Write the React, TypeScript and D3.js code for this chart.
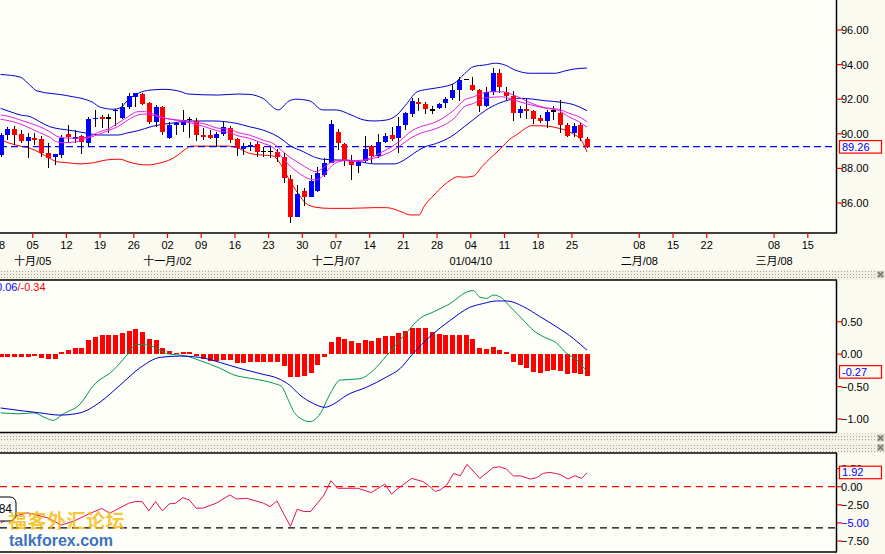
import React, { useEffect, useRef } from 'react'
import * as d3 from 'd3'

// ---- candles (bar index 0 = 28 Sep 2009) ----
const candleOpen = [88.77, 89.93, 90.28, 89.99, 89.6, 89.76, 89.7, 88.87, 88.64, 88.77, 89.99, 89.77, 89.87, 89.49, 90.88, 90.99, 90.9, 91.33, 90.9, 91.53, 92.14, 92.28, 91.76, 90.7, 91.57, 89.74, 90.51, 90.51, 90.84, 90.76, 89.93, 89.93, 89.74, 89.99, 90.32, 89.68, 89.1, 89.22, 89.41, 88.97, 88.97, 88.97, 88.64, 87.39, 85.21, 86.69, 86.37, 86.69, 87.62, 88.33, 90.12, 89.41, 88.4, 88.16, 88.43, 89.29, 88.69, 89.54, 89.93, 89.74, 90.49, 91.16, 91.86, 91.72, 91.38, 91.48, 91.76, 92.05, 92.51, 93.15, 92.82, 92.53, 91.61, 92.42, 93.5, 92.4, 92.16, 91.18, 91.45, 91.32, 90.94, 90.76, 91.32, 91.23, 90.51, 90.06, 90.48, 89.7]
const candleHigh = [90.03, 90.41, 90.45, 90.22, 90.06, 90.03, 89.87, 89.45, 88.83, 89.93, 90.51, 90.22, 89.93, 90.99, 91.38, 91.09, 91.13, 91.42, 91.76, 92.34, 92.37, 92.34, 91.86, 91.66, 91.61, 90.7, 90.7, 91.38, 90.95, 90.9, 90.32, 90.22, 90.12, 90.7, 90.45, 89.74, 89.45, 89.51, 89.54, 89.25, 89.22, 89.1, 88.87, 87.62, 87.04, 86.85, 87.62, 88.1, 88.58, 90.8, 90.26, 89.49, 88.77, 88.49, 89.87, 89.35, 89.99, 90.06, 90.41, 90.97, 91.28, 92.05, 92.05, 91.86, 91.61, 91.8, 92.14, 92.88, 93.27, 93.16, 93.27, 92.57, 92.72, 93.79, 93.73, 92.7, 92.49, 91.61, 92.01, 91.38, 91.09, 91.35, 91.61, 91.95, 90.61, 90.61, 90.63, 89.79]
const candleLow = [88.64, 89.64, 89.35, 89.45, 88.62, 89.35, 88.64, 88.01, 88.18, 88.62, 89.54, 89.45, 88.83, 89.25, 90.41, 90.32, 90.06, 90.45, 90.84, 91.42, 91.57, 91.66, 90.57, 90.41, 89.93, 89.68, 89.93, 90.12, 89.76, 89.6, 89.64, 89.68, 89.22, 89.87, 89.45, 88.72, 88.77, 89.0, 88.64, 88.64, 88.58, 88.39, 87.17, 84.83, 85.19, 85.85, 86.33, 86.65, 87.49, 88.3, 89.06, 88.14, 87.33, 87.75, 88.3, 88.3, 88.6, 89.49, 89.61, 88.91, 90.22, 90.99, 91.34, 91.14, 91.14, 91.44, 91.48, 91.95, 91.9, 93.14, 92.49, 91.28, 91.57, 92.24, 92.34, 91.95, 90.76, 90.94, 90.86, 90.57, 90.61, 90.32, 90.8, 90.05, 89.8, 89.83, 89.58, 89.18]
const candleClose = [89.93, 90.26, 89.93, 89.6, 89.8, 89.64, 88.91, 88.62, 88.83, 89.78, 89.8, 89.8, 89.51, 90.84, 90.92, 90.84, 90.9, 91.38, 91.57, 92.19, 92.34, 91.72, 90.7, 91.57, 90.12, 90.51, 90.61, 90.8, 90.84, 89.93, 89.8, 89.74, 89.99, 90.38, 89.64, 89.16, 89.29, 89.35, 88.97, 88.97, 88.97, 88.64, 87.43, 85.21, 86.52, 86.37, 87.29, 87.72, 88.3, 90.57, 89.45, 88.45, 88.17, 88.37, 89.14, 88.69, 89.53, 89.87, 89.7, 90.43, 91.19, 91.9, 91.72, 91.42, 91.38, 91.72, 92.0, 92.55, 93.09, 93.15, 92.53, 91.61, 92.43, 93.5, 92.7, 92.19, 91.18, 91.45, 91.34, 90.84, 90.76, 91.26, 91.32, 90.51, 89.9, 90.47, 89.74, 89.26]
const lastPrice = 89.26

// ---- overlay lines [bar, price] ----
const upperBand: [number, number][] = [[0, 93.43], [2.9, 93.28], [4.4, 92.79], [5.4, 92.48], [9.8, 92.21], [13.7, 91.81], [14.7, 91.55], [16.7, 91.42], [17.7, 91.49], [18.9, 91.95], [20.4, 92.34], [22.3, 92.53], [24.4, 92.57], [26.8, 92.43], [27.8, 92.3], [32.3, 92.24], [35.2, 92.3], [36.9, 92.28], [38.9, 92.05], [41.2, 91.38], [42.8, 91.9], [43.8, 92.0], [45.8, 91.91], [47.8, 91.38], [49.8, 91.38], [52, 91.09], [53.9, 90.8], [55.4, 90.74], [57.3, 90.8], [58.8, 91.09], [60.3, 91.76], [61.8, 92.43], [63.3, 92.57], [65.3, 92.69], [67.3, 92.92], [68.8, 93.46], [70.2, 93.89], [71.9, 93.98], [73.4, 94.08], [74.8, 93.98], [76.3, 93.69], [78.5, 93.5], [82.3, 93.5], [83.7, 93.63], [85.2, 93.75], [87, 93.8]]
const midBand: [number, number][] = [[0, 91.47], [1.4, 91.28], [2.9, 91.09], [4.4, 90.99], [5.8, 90.7], [7.3, 90.41], [8.8, 90.28], [10.7, 90.18], [12.8, 90.03], [14.7, 89.93], [17.4, 89.93], [18.9, 90.06], [20.4, 90.18], [22.3, 90.41], [24.4, 90.57], [25.9, 90.64], [27.4, 90.74], [31.8, 90.74], [33.3, 90.7], [34.9, 90.61], [36.9, 90.41], [38.9, 90.22], [40.4, 89.99], [41.9, 89.64], [42.8, 89.35], [44.9, 88.97], [46.4, 88.68], [47.8, 88.53], [49.8, 88.49], [52.7, 88.43], [55.4, 88.26], [58.4, 88.26], [59.9, 88.49], [61.3, 88.87], [62.8, 89.22], [64.7, 89.45], [66.8, 89.83], [68.8, 90.41], [70.2, 90.84], [71.9, 91.34], [73.9, 91.76], [75.4, 91.95], [76.9, 92.05], [78.8, 92.01], [80.8, 91.91], [83.3, 91.82], [85.2, 91.66], [87, 91.34]]
const maFast: [number, number][] = [[0, 91.09], [1.4, 90.99], [2.9, 90.8], [4.4, 90.61], [5.8, 90.41], [7.3, 90.12], [8.3, 89.87], [9.3, 89.77], [11.3, 89.74], [12.8, 89.8], [14.7, 90.12], [16.2, 90.32], [17.4, 90.61], [18.9, 90.99], [20.4, 91.28], [21.4, 91.28], [22.3, 91.19], [24.4, 90.9], [26.3, 90.8], [28.3, 90.7], [30.3, 90.57], [32.3, 90.32], [34.2, 90.26], [34.9, 90.12], [36.9, 89.93], [38.9, 89.64], [40.4, 89.45], [41.9, 88.97], [42.8, 88.68], [44.3, 88.3], [45.8, 87.95], [46.8, 87.81], [47.8, 88.01], [48.8, 88.3], [49.8, 88.43], [51.2, 88.49], [52.7, 88.45], [54.4, 88.54], [56.4, 88.91], [57.9, 89.22], [59.4, 89.64], [60.8, 90.12], [62.3, 90.41], [64.3, 90.64], [65.8, 90.95], [67.3, 91.38], [68.8, 91.95], [70.2, 92.14], [71.4, 92.34], [72.9, 92.43], [74.4, 92.43], [75.4, 92.34], [76.9, 92.11], [78.8, 91.76], [80.8, 91.51], [82.8, 91.42], [84.3, 91.19], [85.8, 90.99], [87, 90.7]]
const maSlow: [number, number][] = [[0, 90.84], [1.4, 90.74], [2.9, 90.57], [4.4, 90.32], [5.8, 90.06], [7.3, 89.8], [8.3, 89.54], [9.3, 89.49], [11.3, 89.54], [12.3, 89.68], [14.3, 89.93], [16.2, 90.22], [17.4, 90.41], [18.9, 90.8], [20.4, 91.09], [21.4, 91.14], [22.3, 91.09], [24.4, 90.9], [26.3, 90.76], [28.3, 90.61], [30.3, 90.41], [32.3, 90.16], [34.2, 90.06], [34.9, 89.93], [36.9, 89.74], [38.9, 89.45], [40.4, 89.22], [41.9, 88.58], [42.8, 88.2], [44.3, 87.72], [45.8, 87.39], [46.8, 87.33], [47.8, 87.56], [48.8, 88.01], [49.8, 88.33], [51.2, 88.45], [52.7, 88.39], [54.4, 88.49], [56.4, 88.72], [57.9, 88.97], [59.4, 89.35], [60.8, 89.74], [62.3, 90.03], [64.3, 90.26], [65.8, 90.51], [67.3, 90.9], [68.8, 91.57], [70.2, 91.76], [71.4, 92.05], [72.9, 92.11], [74.4, 92.14], [75.4, 92.05], [76.9, 91.86], [78.8, 91.66], [80.8, 91.48], [82.8, 91.34], [84.3, 90.99], [85.8, 90.7], [87, 90.38]]
const lowerBand: [number, number][] = [[0, 89.64], [1.4, 89.45], [2.9, 89.29], [4.4, 89.16], [5.8, 88.91], [7.3, 88.58], [8.3, 88.39], [9.8, 88.33], [11.8, 88.26], [13.8, 88.33], [15.7, 88.49], [17.7, 88.53], [18.9, 88.39], [20.4, 88.24], [21.9, 88.2], [23.8, 88.33], [25.3, 88.53], [26.3, 88.77], [27.4, 89.1], [28.3, 89.29], [33.7, 89.29], [35.2, 89.18], [36.9, 88.87], [38.9, 88.77], [40.4, 88.72], [41.3, 88.39], [42.3, 87.72], [43.3, 87.04], [44.3, 86.46], [45.3, 85.98], [46.8, 85.75], [48.8, 85.69], [51.7, 85.69], [55.4, 85.73], [57.3, 85.73], [59.4, 85.5], [60.8, 85.31], [62.1, 85.31], [62.8, 85.79], [64.3, 86.46], [65.8, 87.04], [66.8, 87.33], [67.8, 87.52], [68.8, 87.49], [70.2, 87.56], [71.4, 88.1], [72.9, 88.68], [74.4, 89.22], [75.4, 89.64], [76.9, 90.03], [77.9, 90.32], [78.8, 90.47], [80.8, 90.45], [82.8, 90.32], [84.8, 90.03], [86.3, 89.54], [87, 88.95]]

// ---- MACD ----
const macdHist = [-0.05, -0.05, -0.05, -0.05, -0.04, -0.02, -0.06, -0.07, -0.07, 0.03, 0.06, 0.1, 0.1, 0.22, 0.26, 0.29, 0.29, 0.29, 0.33, 0.35, 0.39, 0.34, 0.23, 0.22, 0.09, 0.05, 0.02, 0.03, 0.03, -0.03, -0.07, -0.1, -0.1, -0.09, -0.09, -0.13, -0.13, -0.12, -0.12, -0.12, -0.12, -0.12, -0.19, -0.35, -0.35, -0.34, -0.29, -0.17, -0.04, 0.19, 0.27, 0.23, 0.21, 0.17, 0.22, 0.21, 0.25, 0.28, 0.28, 0.32, 0.35, 0.41, 0.41, 0.4, 0.34, 0.31, 0.29, 0.29, 0.29, 0.29, 0.23, 0.1, 0.08, 0.11, 0.06, 0.03, -0.12, -0.17, -0.21, -0.27, -0.29, -0.26, -0.25, -0.26, -0.31, -0.29, -0.31, -0.33]
const macdSignal: [number, number][] = [[0, -0.83], [2.9, -0.87], [5.8, -0.905], [8.8, -0.94], [11.8, -0.905], [14.75, -0.74], [17.7, -0.48], [20.7, -0.21], [23.7, -0.05], [26.6, -0.03], [29.6, -0.05], [32.6, -0.13], [35.5, -0.22], [38.5, -0.3], [41.5, -0.39], [42.9, -0.48], [44.4, -0.63], [46.4, -0.76], [48.1, -0.82], [49.4, -0.77], [51.4, -0.63], [54.3, -0.51], [57.3, -0.35], [59.3, -0.22], [61.2, 0.01], [63.7, 0.27], [66.7, 0.52], [69.6, 0.72], [71.6, 0.78], [73.6, 0.82], [75.1, 0.82], [77.6, 0.73], [80, 0.58], [82.5, 0.42], [85, 0.24], [87, 0.06]]
const macdLine: [number, number][] = [[0, -0.905], [2.9, -0.92], [4.9, -0.905], [6.8, -0.99], [7.8, -1.02], [9.3, -0.92], [11.8, -0.77], [13.8, -0.48], [16.7, -0.25], [18.7, -0.02], [20.2, 0.15], [21.7, 0.14], [23.2, 0.09], [24.6, 0.01], [27.6, -0.03], [29.6, -0.1], [32.6, -0.22], [34.6, -0.32], [37.5, -0.38], [40.5, -0.45], [41.7, -0.5], [42.7, -0.71], [43.7, -0.92], [45.9, -1.04], [47.4, -0.92], [48.9, -0.61], [50.4, -0.4], [53.3, -0.38], [55.3, -0.25], [57.3, -0.02], [60.3, 0.34], [62.2, 0.55], [64.2, 0.65], [66.7, 0.78], [69.2, 0.96], [70.1, 0.98], [71.1, 0.88], [72.1, 0.86], [73.1, 0.91], [74.3, 0.87], [75.6, 0.73], [77.6, 0.52], [79, 0.37], [80.5, 0.27], [82.5, 0.17], [84, 0.01], [85.5, -0.09], [87, -0.27]]

// ---- lower oscillator ----
const oscLine: [number, number][] = [[0, -5.0], [2, -4.1], [4, -3.6], [7, -4.3], [9, -5.3], [11, -4.7], [13, -3.8], [15, -3.0], [16.2, -3.66], [19, -2.28], [20, -2.06], [21, -2.06], [22, -3.34], [23, -2.06], [24, -3.34], [25, -2.38], [26, -2.28], [27, -1.51], [28, -1.83], [29, -2.97], [30, -2.97], [32, -2.28], [34, -1.14], [35, -1.69], [36.5, -1.6], [39, -2.28], [40, -2.75], [41, -1.96], [43, -5.49], [44, -3.11], [45, -3.43], [46, -3.43], [47, -2.28], [48, -1.14], [49, 0.82], [50, -0.22], [53, -0.22], [55, -0.82], [57, 0.37], [58, -1.0], [59, -0.22], [61, 1.15], [62.7, 0.69], [63.7, 0], [64.5, -0.65], [65.2, -0.45], [66.2, 0.23], [67.2, 1.84], [68.2, 1.51], [69.2, 3.08], [71.1, 1.15], [73.1, 2.66], [74.1, 2.75], [75.1, 2.39], [76.1, 1.47], [77.1, 1.51], [78.6, 1.06], [79.5, 1.24], [80.5, 1.84], [81.5, 1.98], [83, 1.7], [84.2, 1.06], [85.2, 1.51], [86.2, 1.15], [87, 1.92]]
const oscLevelUpper = 0
const oscLevelLower = -5.7

// ---- axes ----
const dayTickBars = [0, 5, 10, 15, 20, 25, 30, 35, 40, 45, 50, 55, 60, 65, 70, 75, 80, 85, 95, 100, 105, 115, 120]
const dayTickLabels = ['28', '05', '12', '19', '26', '02', '09', '16', '23', '30', '07', '14', '21', '28', '04', '11', '18', '25', '08', '15', '22', '08', '15']
const monthBars = [5, 25, 50, 70, 95, 115]
const monthLabels = ['十月/05', '十一月/02', '十二月/07', '01/04/10', '二月/08', '三月/08']
const priceTicks = [86, 88, 90, 92, 94, 96]
const macdTicks = [0.5, 0, -0.5, -1]
const oscTicks = [2.5, 0, -2.5, -5, -7.5]

const FONT = "'Liberation Sans', Arial, 'Noto Sans CJK SC', sans-serif"

export default function App() {
  const svgRef = useRef<SVGSVGElement | null>(null)

  useEffect(() => {
    if (!svgRef.current) return
    const svg = d3.select(svgRef.current)
    svg.selectAll('*').remove()

    const width = 885
    const height = 554
    const plotRight = 836
    const price = { top: 0, bottom: 233 }
    const macd = { top: 280, bottom: 432.5 }
    const osc = { top: 453, bottom: 552 }
    const plotBg = '#FEFEF9'
    const axisBg = '#FBFAF0'

    svg.attr('width', width).attr('height', height)

    const x = d3.scaleLinear().domain([0, 124]).range([0.6, 0.6 + 124 * 6.74])
    const yP = d3.scaleLinear().domain([86, 96]).range([203, 30])
    const yM = d3.scaleLinear().domain([-1, 0.5]).range([419, 321.7])
    const yO = d3.scaleLinear().domain([-7.5, 0]).range([541, 486.7])

    const defs = svg.append('defs')
    const pat = defs.append('pattern').attr('id', 'dots').attr('width', 3).attr('height', 3).attr('patternUnits', 'userSpaceOnUse')
    pat.append('rect').attr('width', 3).attr('height', 3).attr('fill', '#F3F1E6')
    pat.append('rect').attr('x', 1).attr('y', 1).attr('width', 1).attr('height', 1).attr('fill', '#A9A79D')
    ;[['clipP', price], ['clipM', macd], ['clipO', osc]].forEach(([id, p]: any) => {
      defs.append('clipPath').attr('id', id).append('rect')
        .attr('x', 0).attr('y', p.top).attr('width', plotRight).attr('height', p.bottom - p.top)
    })

    // backgrounds
    svg.append('rect').attr('width', width).attr('height', height).attr('fill', axisBg)
    ;[price, macd, osc].forEach(p => {
      svg.append('rect').attr('x', 0).attr('y', p.top).attr('width', plotRight).attr('height', p.bottom - p.top).attr('fill', plotBg)
    })
    // dotted separators
    ;[[270, 10], [433.5, 8.5], [443, 9.5]].forEach(([y, h]) => {
      svg.append('rect').attr('x', 0).attr('y', y).attr('width', width).attr('height', h).attr('fill', 'url(#dots)')
      const ic = svg.append('g').attr('transform', `translate(877,${y + 1})`)
      ic.append('rect').attr('width', 7).attr('height', 7).attr('fill', '#C8C6BE')
      ic.append('path').attr('d', 'M1,1L6,6M6,1L1,6').attr('stroke', '#6E6C66').attr('stroke-width', 1.2)
    })

    const line = (ys: d3.ScaleLinear<number, number>) =>
      d3.line<[number, number]>().x(d => x(d[0])).y(d => ys(d[1])).curve(d3.curveMonotoneX)

    // ---------- price panel ----------
    const gp = svg.append('g').attr('clip-path', 'url(#clipP)')
    gp.append('path').datum(upperBand).attr('d', line(yP)).attr('fill', 'none').attr('stroke', '#0000CC').attr('stroke-width', 1)
    gp.append('path').datum(midBand).attr('d', line(yP)).attr('fill', 'none').attr('stroke', '#0000CC').attr('stroke-width', 1)
    gp.append('path').datum(lowerBand).attr('d', line(yP)).attr('fill', 'none').attr('stroke', '#FF0000').attr('stroke-width', 1)

    gp.append('line').attr('x1', 0).attr('x2', plotRight).attr('y1', yP(lastPrice)).attr('y2', yP(lastPrice))
      .attr('stroke', '#0000FF').attr('stroke-width', 1.2).attr('stroke-dasharray', '7,4')

    const candles = candleOpen.map((o, i) => ({ i, o, h: candleHigh[i], l: candleLow[i], c: candleClose[i] }))
    const cg = gp.append('g').attr('shape-rendering', 'crispEdges')
    cg.selectAll('line.wick').data(candles).enter().append('line')
      .attr('x1', d => Math.round(x(d.i)) + 0.5).attr('x2', d => Math.round(x(d.i)) + 0.5)
      .attr('y1', d => yP(d.h)).attr('y2', d => yP(d.l))
      .attr('stroke', '#000').attr('stroke-width', 1)
    cg.selectAll('rect.body').data(candles.filter(d => d.c !== d.o)).enter().append('rect')
      .attr('x', d => Math.round(x(d.i)) - 2).attr('width', 5)
      .attr('y', d => yP(Math.max(d.o, d.c)))
      .attr('height', d => Math.max(1.5, Math.abs(yP(d.o) - yP(d.c))))
      .attr('fill', d => (d.c > d.o ? '#0000FF' : '#FF0000'))
    cg.selectAll('line.doji').data(candles.filter(d => d.c === d.o)).enter().append('line')
      .attr('x1', d => Math.round(x(d.i)) - 2).attr('x2', d => Math.round(x(d.i)) + 3)
      .attr('y1', d => yP(d.c)).attr('y2', d => yP(d.c))
      .attr('stroke', '#000').attr('stroke-width', 1.5)

    gp.append('path').datum(maSlow).attr('d', line(yP)).attr('fill', 'none').attr('stroke', '#E020E0').attr('stroke-width', 1)
    gp.append('path').datum(maFast).attr('d', line(yP)).attr('fill', 'none').attr('stroke', '#E020E0').attr('stroke-width', 1)

    // ---------- MACD panel ----------
    const gm = svg.append('g').attr('clip-path', 'url(#clipM)')
    gm.selectAll('rect').data(macdHist).enter().append('rect')
      .attr('x', (_, i) => Math.round(x(i)) - 2).attr('width', 5)
      .attr('y', d => Math.min(yM(d), yM(0)))
      .attr('height', d => Math.max(1.5, Math.abs(yM(d) - yM(0))))
      .attr('fill', '#FF0000').attr('shape-rendering', 'crispEdges')
    gm.append('path').datum(macdLine).attr('d', line(yM)).attr('fill', 'none').attr('stroke', '#00964B').attr('stroke-width', 1)
    gm.append('path').datum(macdSignal).attr('d', line(yM)).attr('fill', 'none').attr('stroke', '#0000CC').attr('stroke-width', 1)
    const mt = svg.append('text').attr('x', -4).attr('y', 291).attr('font-family', FONT).attr('font-size', 11)
    mt.append('tspan').attr('fill', '#0000FF').text('0.06')
    mt.append('tspan').attr('fill', '#FF0000').text('/-0.34')

    // ---------- oscillator panel ----------
    const go = svg.append('g').attr('clip-path', 'url(#clipO)')
    go.append('line').attr('x1', 0).attr('x2', plotRight).attr('y1', yO(oscLevelUpper)).attr('y2', yO(oscLevelUpper))
      .attr('stroke', '#FF0000').attr('stroke-width', 1.2).attr('stroke-dasharray', '7,5')
    go.append('line').attr('x1', 0).attr('x2', plotRight).attr('y1', yO(oscLevelLower)).attr('y2', yO(oscLevelLower))
      .attr('stroke', '#000').attr('stroke-width', 1.2).attr('stroke-dasharray', '7,5')
    go.append('path').datum(oscLine).attr('d', d3.line<[number, number]>().x(d => x(d[0])).y(d => yO(d[1])))
      .attr('fill', 'none').attr('stroke', '#E0105A').attr('stroke-width', 1)

    // left value tag
    svg.append('rect').attr('x', -12).attr('y', 497).attr('width', 28).attr('height', 24).attr('rx', 6)
      .attr('fill', '#FFFFFF').attr('stroke', '#000').attr('stroke-width', 1)
    svg.append('text').attr('x', 12).attr('y', 513).attr('text-anchor', 'end').attr('font-family', FONT).attr('font-size', 12).attr('fill', '#000').text('5.84')

    // watermark
    svg.append('text').attr('x', 8).attr('y', 528).attr('font-family', "'Noto Sans CJK SC', sans-serif").attr('font-size', 19)
      .attr('font-weight', 700).attr('fill', '#F4B400').attr('fill-opacity', 0.75).attr('letter-spacing', 0.5).text('福客外汇论坛')
    svg.append('text').attr('x', 9).attr('y', 546).attr('font-family', "'Liberation Sans', Arial, sans-serif").attr('font-size', 16)
      .attr('font-weight', 700).attr('fill', '#3C72BE').attr('stroke', '#FFFFFF').attr('stroke-width', 0.6).attr('paint-order', 'stroke')
      .text('talkforex.com')

    // ---------- frames ----------
    const frame = (p: { top: number; bottom: number }, full: boolean) => {
      svg.append('line').attr('x1', plotRight + 0.5).attr('x2', plotRight + 0.5).attr('y1', p.top).attr('y2', p.bottom).attr('stroke', '#000').attr('stroke-width', 1.5)
      svg.append('line').attr('x1', 0).attr('x2', plotRight + 1).attr('y1', p.bottom).attr('y2', p.bottom).attr('stroke', '#000').attr('stroke-width', 1.5)
      if (full) svg.append('line').attr('x1', 0).attr('x2', plotRight + 1).attr('y1', p.top).attr('y2', p.top).attr('stroke', '#000').attr('stroke-width', 1.5)
    }
    frame(price, false)
    frame(macd, true)
    frame(osc, true)

    // ---------- right axes ----------
    const rightAxis = (ticks: number[], ys: d3.ScaleLinear<number, number>, blue: number | null) => {
      const g = svg.append('g')
      ticks.forEach(t => {
        g.append('line').attr('x1', plotRight + 1).attr('x2', plotRight + 6).attr('y1', ys(t)).attr('y2', ys(t)).attr('stroke', '#FF0000').attr('stroke-width', 1.2)
        g.append('text').attr('x', plotRight + 5).attr('y', ys(t)).attr('dy', '0.36em')
          .attr('font-family', FONT).attr('font-size', 11).attr('fill', t === blue ? '#0000FF' : '#000')
          .text(d3.format('.2f')(t))
      })
    }
    rightAxis(priceTicks, yP, null)
    rightAxis(macdTicks, yM, null)
    rightAxis(oscTicks, yO, -5)

    const tag = (y: number, text: string) => {
      svg.append('rect').attr('x', 839.5).attr('y', y - 6).attr('width', 42).attr('height', 12.5)
        .attr('fill', axisBg).attr('stroke', '#FF0000').attr('stroke-width', 1.2)
      svg.append('text').attr('x', 842).attr('y', y).attr('dy', '0.36em').attr('font-family', FONT).attr('font-size', 11)
        .attr('fill', '#0000FF').text(text)
    }
    tag(yP(lastPrice), '89.26')
    tag(yM(-0.27), '-0.27')
    tag(472.2, '1.92')

    // ---------- date axis ----------
    const gx = svg.append('g')
    dayTickBars.forEach((b, k) => {
      const tx = x(b) - 1.6
      gx.append('line').attr('x1', tx).attr('x2', tx).attr('y1', price.bottom).attr('y2', price.bottom + 5).attr('stroke', '#FF0000').attr('stroke-width', 1.2)
      gx.append('text').attr('x', tx).attr('y', 249).attr('text-anchor', 'middle')
        .attr('font-family', FONT).attr('font-size', 11).attr('fill', '#000').text(dayTickLabels[k])
    })
    monthBars.forEach((b, k) => {
      gx.append('text').attr('x', x(b) - 1.6).attr('y', 265).attr('text-anchor', 'middle')
        .attr('font-family', FONT).attr('font-size', 11).attr('fill', '#000').text(monthLabels[k])
    })
  }, [])

  return (
    <div style={{ position: 'absolute', left: 0, top: 0 }}>
      <svg ref={svgRef} style={{ display: 'block' }}></svg>
    </div>
  )
}
